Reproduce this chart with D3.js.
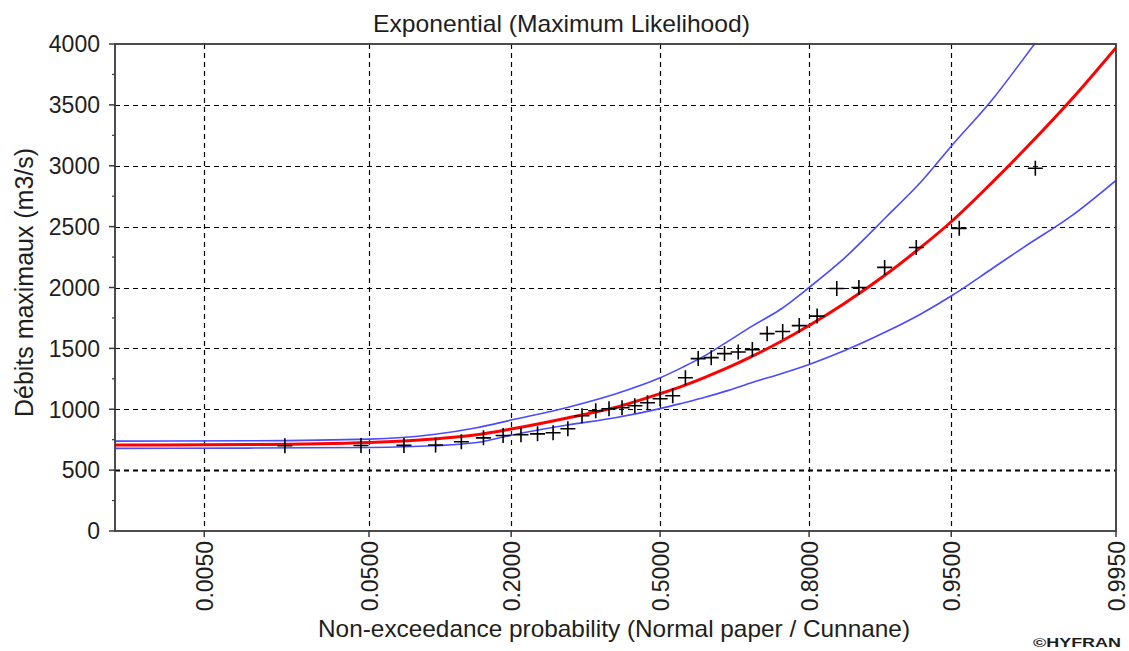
<!DOCTYPE html>
<html>
<head>
<meta charset="utf-8">
<script src="https://cdn.jsdelivr.net/npm/d3@7"></script>
<style>
  body { margin: 0; background: #ffffff; }
  svg { display: block; }
  text { font-family: "Liberation Sans", Arial, sans-serif; fill: #1e1e1e; }
</style>
</head>
<body>
<svg id="chart" width="1129" height="651"></svg>
<script>
// Probability ticks on the normal-paper axis
const probTicks = [0.005, 0.05, 0.2, 0.5, 0.8, 0.95, 0.995];
const probTickLabels = ["0.0050", "0.0500", "0.2000", "0.5000", "0.8000", "0.9500", "0.9950"];

// Discharge ticks (m3/s)
const flowTicks = [0, 500, 1000, 1500, 2000, 2500, 3000, 3500, 4000];
const flowMinorTicks = [250, 750, 1250, 1750, 2250, 2750, 3250, 3750];

// Ranked annual maxima with their Cunnane plotting positions
const observedProb = [0.0170, 0.0455, 0.0739, 0.1023, 0.1307, 0.1591, 0.1875, 0.2159, 0.2443, 0.2727,
                      0.3011, 0.3295, 0.3580, 0.3864, 0.4148, 0.4432, 0.4716, 0.5000, 0.5284, 0.5568,
                      0.5852, 0.6136, 0.6420, 0.6705, 0.6989, 0.7273, 0.7557, 0.7841, 0.8125, 0.8409,
                      0.8693, 0.8977, 0.9261, 0.9545, 0.9830];
const observedFlow = [700, 702, 703, 706, 733, 765, 785, 790, 798, 807,
                      840, 947, 988, 1004, 1012, 1029, 1053, 1086, 1111, 1259,
                      1416, 1424, 1457, 1470, 1490, 1621, 1638, 1687, 1765, 1992,
                      2000, 2165, 2329, 2486, 2979];

// Fitted quantiles and confidence bounds
const curveProb = [0.001, 0.01, 0.05, 0.1, 0.15, 0.2, 0.3, 0.4, 0.5, 0.55, 0.6, 0.65,
                   0.7, 0.75, 0.8, 0.85, 0.9, 0.93, 0.95, 0.97, 0.98, 0.99, 0.995];
const fittedFlow = [706, 710, 727, 755, 790, 837, 928, 1015, 1128, 1190, 1262, 1343,
                    1438, 1550, 1688, 1865, 2113, 2333, 2540, 2870, 3125, 3548, 3970];
const upperFlow  = [738, 741, 755, 793, 848, 911, 1015, 1125, 1258, 1344, 1440, 1560,
                    1687, 1815, 2000, 2235, 2585, 2870, 3160, 3550, 3880, 4420, 4950];
const lowerFlow  = [679, 681, 686, 700, 727, 787, 870, 930, 1005, 1050, 1098, 1155,
                    1222, 1288, 1368, 1478, 1640, 1785, 1930, 2160, 2330, 2590, 2880];

// Inverse standard normal CDF (Acklam's rational approximation)
function probit(p) {
  const a = [-3.969683028665376e+01, 2.209460984245205e+02, -2.759285104469687e+02,
             1.383577518672690e+02, -3.066479806614716e+01, 2.506628277459239e+00];
  const b = [-5.447609879822406e+01, 1.615858368580409e+02, -1.556989798598866e+02,
             6.680131188771972e+01, -1.328068155288572e+01];
  const c = [-7.784894002430293e-03, -3.223964580411365e-01, -2.400758277161838e+00,
             -2.549732539343734e+00, 4.374664141464968e+00, 2.938163982698783e+00];
  const d = [7.784695709041462e-03, 3.224671290700398e-01, 2.445134137142996e+00,
             3.754408661907416e+00];
  const pl = 0.02425, ph = 1 - pl;
  let q, r;
  if (p < pl) {
    q = Math.sqrt(-2 * Math.log(p));
    return (((((c[0]*q+c[1])*q+c[2])*q+c[3])*q+c[4])*q+c[5]) / ((((d[0]*q+d[1])*q+d[2])*q+d[3])*q+1);
  }
  if (p <= ph) {
    q = p - 0.5; r = q * q;
    return (((((a[0]*r+a[1])*r+a[2])*r+a[3])*r+a[4])*r+a[5])*q / (((((b[0]*r+b[1])*r+b[2])*r+b[3])*r+b[4])*r+1);
  }
  q = Math.sqrt(-2 * Math.log(1 - p));
  return -(((((c[0]*q+c[1])*q+c[2])*q+c[3])*q+c[4])*q+c[5]) / ((((d[0]*q+d[1])*q+d[2])*q+d[3])*q+1);
}

const plot = { left: 115, right: 1116, top: 44, bottom: 531 };

// Normal paper: linear in the standard normal variate
const zScale = d3.scaleLinear().domain([-3.08, probit(0.995)]).range([plot.left, plot.right]);
const x = p => zScale(probit(p));
const y = d3.scaleLinear().domain([0, 4000]).range([plot.bottom, plot.top]);

const svg = d3.select("#chart");

svg.append("defs").append("clipPath").attr("id", "plot-clip")
  .append("rect")
  .attr("x", plot.left).attr("y", plot.top)
  .attr("width", plot.right - plot.left).attr("height", plot.bottom - plot.top);

// Grid
const grid = svg.append("g").attr("stroke", "#000").attr("fill", "none");
grid.selectAll("line.v").data(probTicks.filter(p => p < 0.99)).join("line")
  .attr("class", "v")
  .attr("x1", d => Math.round(x(d)) + 0.5).attr("x2", d => Math.round(x(d)) + 0.5)
  .attr("y1", plot.top).attr("y2", plot.bottom)
  .attr("stroke-width", 1.2)
  .attr("stroke-dasharray", "5,4");
grid.selectAll("line.h").data(flowTicks.filter(v => v > 0 && v < 4000)).join("line")
  .attr("class", "h")
  .attr("x1", plot.left).attr("x2", plot.right)
  .attr("y1", d => Math.round(y(d)) + 0.5).attr("y2", d => Math.round(y(d)) + 0.5)
  .attr("stroke-width", d => d === 500 ? 2 : 1.2)
  .attr("stroke-dasharray", "5,4");

// Curves
const line = d3.line()
  .x(d => x(d[0]))
  .y(d => y(d[1]))
  .curve(d3.curveMonotoneX);

const curves = svg.append("g").attr("clip-path", "url(#plot-clip)").attr("fill", "none");
curves.append("path")
  .attr("d", line(curveProb.map((p, i) => [p, upperFlow[i]])))
  .attr("stroke", "#4a4aff").attr("stroke-width", 1.6);
curves.append("path")
  .attr("d", line(curveProb.map((p, i) => [p, lowerFlow[i]])))
  .attr("stroke", "#4a4aff").attr("stroke-width", 1.6);
curves.append("path")
  .attr("d", line(curveProb.map((p, i) => [p, fittedFlow[i]])))
  .attr("stroke", "#ff0000").attr("stroke-width", 3);

// Observations as plus markers
svg.append("g").attr("clip-path", "url(#plot-clip)")
  .selectAll("path.obs").data(observedProb.map((p, i) => [p, observedFlow[i]])).join("path")
  .attr("class", "obs")
  .attr("transform", d => `translate(${x(d[0])},${y(d[1])})`)
  .attr("d", "M-7.5,0H7.5M0,-7.5V7.5")
  .attr("stroke", "#000").attr("stroke-width", 1.6).attr("fill", "none");

// Frame
svg.append("rect")
  .attr("x", plot.left).attr("y", plot.top)
  .attr("width", plot.right - plot.left).attr("height", plot.bottom - plot.top)
  .attr("fill", "none").attr("stroke", "#3a3a3a").attr("stroke-width", 1.8);

// Y axis ticks and labels
const yAxis = svg.append("g");
yAxis.selectAll("line.major").data(flowTicks).join("line")
  .attr("class", "major")
  .attr("x1", plot.left - 6).attr("x2", plot.left)
  .attr("y1", d => y(d)).attr("y2", d => y(d))
  .attr("stroke", "#3a3a3a").attr("stroke-width", 1.5);
yAxis.selectAll("line.minor").data(flowMinorTicks).join("line")
  .attr("class", "minor")
  .attr("x1", plot.left - 3).attr("x2", plot.left)
  .attr("y1", d => y(d)).attr("y2", d => y(d))
  .attr("stroke", "#3a3a3a").attr("stroke-width", 1.2);
yAxis.selectAll("text").data(flowTicks).join("text")
  .attr("x", 100).attr("y", d => y(d)).attr("dy", "0.36em")
  .attr("text-anchor", "end")
  .attr("font-size", 23)
  .text(d => d);

// X axis ticks and rotated labels
const xAxis = svg.append("g");
xAxis.selectAll("line").data(probTicks).join("line")
  .attr("x1", d => x(d)).attr("x2", d => x(d))
  .attr("y1", plot.bottom).attr("y2", plot.bottom + 6)
  .attr("stroke", "#3a3a3a").attr("stroke-width", 1.5);
xAxis.selectAll("text").data(probTicks).join("text")
  .attr("transform", d => `translate(${Math.min(x(d), plot.right) + 8.5},${plot.bottom + 10}) rotate(-90)`)
  .attr("text-anchor", "end")
  .attr("font-size", 23)
  .text((d, i) => probTickLabels[i]);

// Titles
svg.append("text")
  .attr("x", 561.5).attr("y", 32)
  .attr("text-anchor", "middle")
  .attr("font-size", 24)
  .attr("textLength", 377).attr("lengthAdjust", "spacingAndGlyphs")
  .text("Exponential (Maximum Likelihood)");

svg.append("text")
  .attr("transform", "translate(33,282.5) rotate(-90)")
  .attr("text-anchor", "middle")
  .attr("font-size", 25)
  .attr("textLength", 269).attr("lengthAdjust", "spacingAndGlyphs")
  .text("Débits maximaux (m3/s)");

svg.append("text")
  .attr("x", 614).attr("y", 637)
  .attr("text-anchor", "middle")
  .attr("font-size", 24)
  .attr("textLength", 592).attr("lengthAdjust", "spacingAndGlyphs")
  .text("Non-exceedance probability (Normal paper / Cunnane)");

svg.append("text")
  .attr("x", 1033).attr("y", 647)
  .attr("font-size", 13).attr("font-weight", "bold")
  .attr("textLength", 88).attr("lengthAdjust", "spacingAndGlyphs")
  .text("©HYFRAN");
</script>
</body>
</html>
